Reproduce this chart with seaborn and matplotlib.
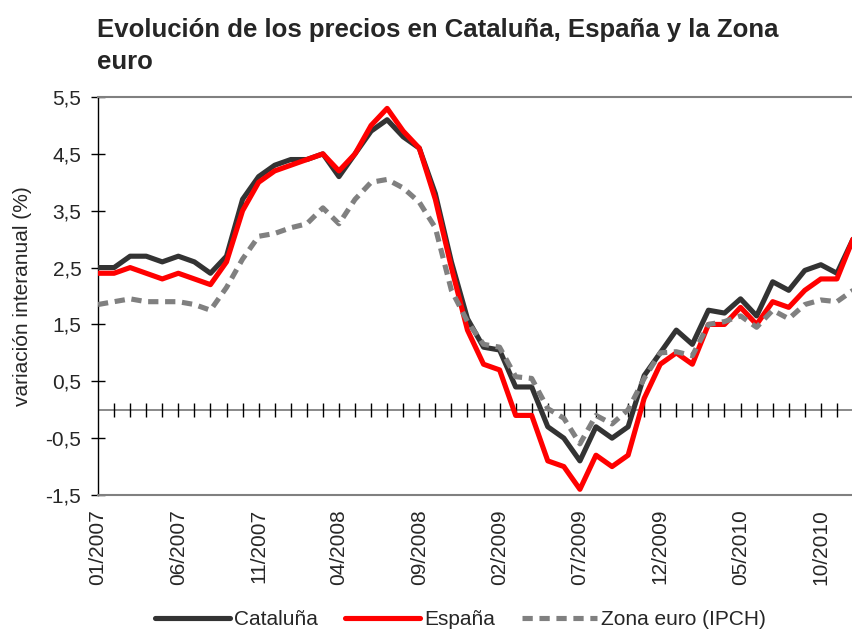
import numpy as np
import pandas as pd
import seaborn as sns
import matplotlib
matplotlib.use("Agg")
from matplotlib import pyplot as plt

#%% Data (monthly 01/2007 - 12/2010)
meses = pd.date_range("2007-01-01", "2010-12-01", freq="MS")

cataluna = [2.5, 2.5, 2.7, 2.7, 2.6, 2.7, 2.6, 2.4, 2.7, 3.7, 4.1, 4.3,
            4.4, 4.4, 4.5, 4.1, 4.5, 4.9, 5.1, 4.8, 4.6, 3.8, 2.6, 1.6,
            1.1, 1.05, 0.4, 0.4, -0.3, -0.5, -0.9, -0.3, -0.5, -0.3, 0.6, 1.0,
            1.4, 1.15, 1.75, 1.7, 1.95, 1.65, 2.25, 2.1, 2.45, 2.55, 2.4, 3.0]

espana = [2.4, 2.4, 2.5, 2.4, 2.3, 2.4, 2.3, 2.2, 2.6, 3.5, 4.0, 4.2,
          4.3, 4.4, 4.5, 4.2, 4.5, 5.0, 5.3, 4.9, 4.6, 3.7, 2.5, 1.4,
          0.8, 0.7, -0.1, -0.1, -0.9, -1.0, -1.4, -0.8, -1.0, -0.8, 0.2, 0.8,
          1.0, 0.8, 1.5, 1.5, 1.8, 1.5, 1.9, 1.8, 2.1, 2.3, 2.3, 3.0]

zona_euro = [1.85, 1.9, 1.95, 1.9, 1.9, 1.9, 1.85, 1.75, 2.15, 2.65, 3.05, 3.1,
             3.2, 3.27, 3.55, 3.27, 3.7, 4.0, 4.05, 3.9, 3.65, 3.2, 2.1, 1.55,
             1.15, 1.1, 0.58, 0.55, 0.02, -0.15, -0.6, -0.1, -0.25, 0.0, 0.55, 1.0,
             1.02, 0.95, 1.5, 1.55, 1.65, 1.45, 1.75, 1.6, 1.85, 1.93, 1.9, 2.1]

series = ["Cataluña", "España", "Zona euro (IPCH)"]
colores = ["#333333", "#ff0000", "#808080"]

df = pd.DataFrame({"mes": np.arange(len(meses)),
                   series[0]: cataluna, series[1]: espana, series[2]: zona_euro})
largo = df.melt(id_vars="mes", var_name="serie", value_name="valor")

#%% Plot
sns.set_style("white")
plt.rcParams['font.family'] = ['Liberation Sans', 'DejaVu Sans']

fig = plt.figure(figsize=(8.53, 6.32), dpi=100)
ax = fig.add_axes([98/853, 1 - 495/632, 755/853, 398/632])

# zero axis with a tick per month
ax.axhline(0, color="#808080", lw=1.3, zorder=1)
ax.vlines(df["mes"][1:], -0.12, 0.12, color="black", lw=1, zorder=1)

sns.lineplot(data=largo, x="mes", y="valor", hue="serie", style="serie",
             hue_order=series, style_order=series,
             palette=dict(zip(series, colores)),
             dashes={series[0]: "", series[1]: "", series[2]: (2.0, 1.3)},
             linewidth=3.7, ax=ax, legend=False, zorder=3)
for ln in ax.get_lines()[-3:]:
    ln.set_dash_capstyle("butt")
    ln.set_solid_joinstyle("round")

ax.set_xlim(0, 47)
ax.set_ylim(-1.5, 5.5)
yt = np.arange(-1.5, 5.6, 1)
ax.set_yticks(yt)
ax.set_yticklabels([f"{v:.1f}".replace(".", ",") for v in yt], fontsize=15)
ax.set_xticks(df["mes"][::5])
ax.set_xticklabels([m.strftime("%m/%Y") for m in meses[::5]], rotation=90, fontsize=15)
ax.tick_params(axis="y", direction="inout", length=10, width=1, color="black", pad=7, left=True)
ax.tick_params(axis="x", length=0, pad=10)
ax.set_xlabel("")
ax.set_ylabel("variación interanual (%)", fontsize=15, labelpad=10)

ax.spines["left"].set_color("black")
ax.spines["left"].set_linewidth(1)
for s in ["top", "bottom"]:
    ax.spines[s].set_color("#808080")
    ax.spines[s].set_linewidth(1.5)
ax.spines["right"].set_visible(False)

handles = ax.get_lines()[-3:]
ax.legend(handles, series, loc="center", bbox_to_anchor=(0.54, 0.019),
          bbox_transform=fig.transFigure, ncol=3, frameon=False, fontsize=15,
          handlelength=3.6, handletextpad=0.2, columnspacing=1.3)

fig.text(97/853, 1 - 18/632, "Evolución de los precios en Cataluña, España y la Zona\neuro",
         fontsize=18.5, fontweight="bold", va="top", ha="left", linespacing=1.4)

fig.savefig("out.png", dpi=100)
